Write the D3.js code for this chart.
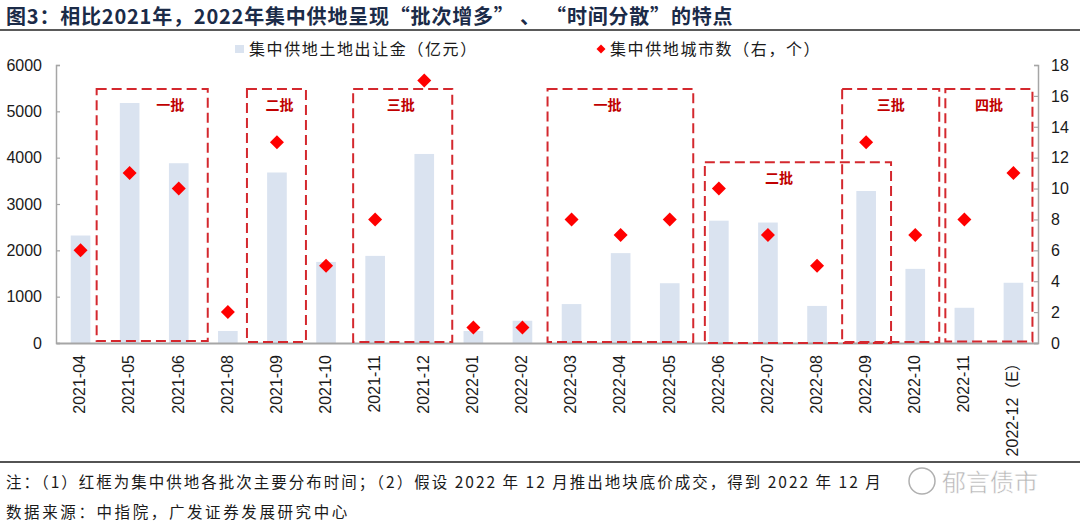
<!DOCTYPE html>
<html>
<head>
<meta charset="utf-8">
<script src="https://cdn.jsdelivr.net/npm/d3@7/dist/d3.min.js"></script>
<style>
  html, body { margin: 0; padding: 0; background: #fff; }
  svg { display: block; }
</style>
</head>
<body>
<svg id="chart" width="1080" height="528"></svg>
<script>
// ---------------- DATA ----------------
const categories = ["2021-04","2021-05","2021-06","2021-08","2021-09","2021-10","2021-11","2021-12",
  "2022-01","2022-02","2022-03","2022-04","2022-05","2022-06","2022-07","2022-08","2022-09","2022-10","2022-11","2022-12（E）"];
const landRevenue = [2320,5180,3880,260,3680,1750,1880,4080,260,480,840,1940,1290,2640,2600,800,3280,1600,760,1300];
const cityCount   = [6,11,10,2,13,5,8,17,1,1,8,7,8,10,7,5,13,7,8,11];
const leftTicks  = [0,1000,2000,3000,4000,5000,6000];
const rightTicks = [0,2,4,6,8,10,12,14,16,18];
const boxLabels = ["一批","二批","三批","一批","二批","三批","四批"];
const boxFrom   = ["2021-05","2021-09","2021-11","2022-03","2022-06","2022-09","2022-11"];
const boxTo     = ["2021-06","2021-09","2021-12","2022-05","2022-08","2022-10","2022-12（E）"];
const boxTop    = [16.45,16.45,16.45,16.45,11.7,16.45,16.45]; // right-axis units
const seriesNames = ["集中供地土地出让金（亿元）","集中供地城市数（右，个）"];
const titleText = "图3：相比2021年，2022年集中供地呈现“批次增多” 、 “时间分散”的特点";
const note1 = "注：（1）红框为集中供地各批次主要分布时间；（2）假设 2022 年 12 月推出地块底价成交，得到 2022 年 12 月";
const note2 = "数据来源：中指院，广发证券发展研究中心";
const watermark = "郁言债市";

// ---------------- LAYOUT ----------------
const svg = d3.select("#chart");
const L = 56, R = 1038, T = 65, B = 343;
const latin = "'Liberation Sans', Arial, 'Noto Sans CJK SC', sans-serif";
const cjk = "'Noto Sans CJK SC', 'Liberation Sans', sans-serif";

const x = d3.scaleBand().domain(categories).range([L, R]).paddingInner(0.6).paddingOuter(0.3);
const cx = c => x(c) + x.bandwidth() / 2;
const yL = d3.scaleLinear().domain([0, 6000]).range([B, T]);
const yR = d3.scaleLinear().domain([0, 18]).range([B, T]);

// Title
svg.append("text").attr("x", 6).attr("y", 23.5)
  .attr("font-family", cjk).attr("font-weight", 700).attr("font-size", 20)
  .attr("letter-spacing", 0.8)
  .attr("fill", "#1b2b48").text(titleText);
svg.append("line").attr("x1", 0).attr("x2", 1080).attr("y1", 30).attr("y2", 30)
  .attr("stroke", "#5a5a5a").attr("stroke-width", 2);

// Bars
svg.append("g").selectAll("rect").data(categories).join("rect")
  .attr("x", d => x(d)).attr("width", x.bandwidth())
  .attr("y", (d, i) => yL(landRevenue[i]))
  .attr("height", (d, i) => B - yL(landRevenue[i]))
  .attr("fill", "#dae3f0");

// Axes
const gL = svg.append("g").attr("transform", `translate(${L},0)`)
  .call(d3.axisRight(yL).tickValues(leftTicks).tickSize(4).tickFormat(d3.format("d")));
gL.selectAll("text").remove();
const gR = svg.append("g").attr("transform", `translate(${R},0)`)
  .call(d3.axisLeft(yR).tickValues(rightTicks).tickSize(4).tickFormat(d3.format("d")));
gR.selectAll("text").remove();
[gL, gR].forEach(g => {
  g.select(".domain").attr("stroke", "#a6a6a6").attr("stroke-width", 1.5);
  g.selectAll(".tick line").attr("stroke", "#a6a6a6").attr("stroke-width", 1.2);
});
svg.append("g").selectAll("text").data(leftTicks).join("text")
  .attr("x", 42).attr("y", d => yL(d)).attr("dy", "0.36em").attr("text-anchor", "end")
  .attr("font-family", latin).attr("font-size", 16).attr("fill", "#1a1a1a").text(d => d);
svg.append("g").selectAll("text").data(rightTicks).join("text")
  .attr("x", 1051).attr("y", d => yR(d)).attr("dy", "0.36em").attr("text-anchor", "start")
  .attr("font-family", latin).attr("font-size", 16).attr("fill", "#1a1a1a").text(d => d);

const gB = svg.append("g").attr("transform", `translate(0,${B})`)
  .call(d3.axisBottom(x).tickSize(0).tickFormat(""));
gB.select(".domain").attr("stroke", "#a6a6a6").attr("stroke-width", 2);
svg.append("g").selectAll("text").data(categories).join("text")
  .attr("transform", d => `translate(${cx(d) - 1},355) rotate(-90)`)
  .attr("text-anchor", "end").attr("dy", "0.36em")
  .attr("font-family", latin).attr("font-size", 16).attr("fill", "#1a1a1a").text(d => d);

// Dashed boxes (pixel padding around the category centres)
const boxPad = [[-33,29],[-30,29],[-22,28],[-24,23.5],[-14,74],[-24,24],[-19,19]];
const labelDx = [18,3,-2,-13,-19,0,0];
const boxBottom = [341,342,342,342,343,342,341.5];
const gBox = svg.append("g");
boxLabels.forEach((lab, i) => {
  const x0 = cx(boxFrom[i]) + boxPad[i][0];
  const x1 = cx(boxTo[i]) + boxPad[i][1];
  const y0 = yR(boxTop[i]);
  gBox.append("rect").attr("x", x0).attr("y", y0)
    .attr("width", x1 - x0).attr("height", boxBottom[i] - y0)
    .attr("fill", "none").attr("stroke", "#d4282e").attr("stroke-width", 2)
    .attr("stroke-dasharray", "10,5");
  gBox.append("text").attr("x", (x0 + x1) / 2 + labelDx[i]).attr("y", y0 + 16)
    .attr("dy", "0.36em").attr("text-anchor", "middle")
    .attr("font-family", cjk).attr("font-weight", 700).attr("font-size", 14)
    .attr("fill", "#c00000").text(lab);
});

// Diamonds
const diamond = d3.symbol().type(d3.symbolSquare).size(98);
svg.append("g").selectAll("path").data(categories).join("path")
  .attr("d", diamond)
  .attr("transform", (d, i) => `translate(${cx(d)},${yR(cityCount[i])}) rotate(45)`)
  .attr("fill", "#ff0000");

// Legend
const lg = svg.append("g");
lg.append("rect").attr("x", 235).attr("y", 45).attr("width", 9).attr("height", 8).attr("fill", "#dae3f0");
lg.append("text").attr("x", 249).attr("y", 49).attr("dy", "0.36em")
  .attr("font-family", cjk).attr("font-size", 16).attr("letter-spacing", 1.6)
  .attr("fill", "#1a1a1a").text(seriesNames[0]);
lg.append("path").attr("d", d3.symbol().type(d3.symbolSquare).size(40))
  .attr("transform", "translate(601,49) rotate(45)").attr("fill", "#ff0000");
lg.append("text").attr("x", 610).attr("y", 49).attr("dy", "0.36em")
  .attr("font-family", cjk).attr("font-size", 16).attr("letter-spacing", 1.6)
  .attr("fill", "#1a1a1a").text(seriesNames[1]);

// Footer
svg.append("line").attr("x1", 0).attr("x2", 1080).attr("y1", 462).attr("y2", 462)
  .attr("stroke", "#1a1a1a").attr("stroke-width", 1.5);
svg.append("text").attr("x", 6).attr("y", 482).attr("dy", "0.36em")
  .attr("font-family", cjk).attr("font-size", 15.5).attr("letter-spacing", 2.0)
  .attr("fill", "#1a1a1a").text(note1);
svg.append("text").attr("x", 6).attr("y", 512).attr("dy", "0.36em")
  .attr("font-family", cjk).attr("font-size", 15.5).attr("letter-spacing", 2.6)
  .attr("fill", "#1a1a1a").text(note2);
// Watermark
svg.append("circle").attr("cx", 922).attr("cy", 481).attr("r", 13)
  .attr("fill", "rgba(255,255,255,0.6)").attr("stroke", "#b0b0b0").attr("stroke-width", 1.5);
svg.append("text").attr("x", 942).attr("y", 482).attr("dy", "0.36em")
  .attr("font-family", cjk).attr("font-size", 24).attr("fill", "#b5b5b5")
  .attr("stroke", "#fff").attr("stroke-width", 0.5).text(watermark);
</script>
</body>
</html>
